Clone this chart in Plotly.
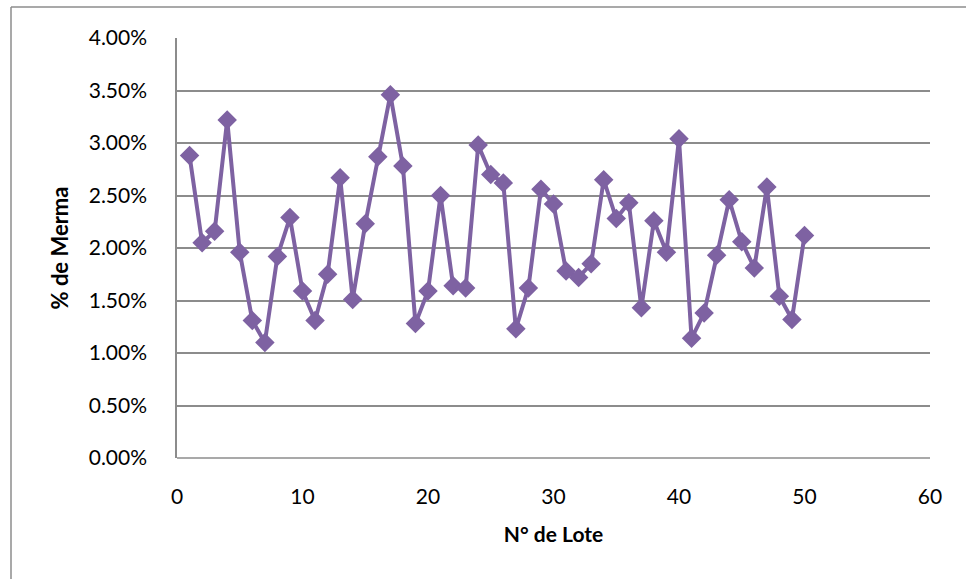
import plotly.graph_objects as go

# Lot numbers and shrinkage percentage per lot
lotes = list(range(1, 51))
merma_pct = [
    2.88, 2.05, 2.16, 3.22, 1.96, 1.31, 1.10, 1.92, 2.29, 1.59,
    1.31, 1.75, 2.67, 1.51, 2.23, 2.87, 3.46, 2.78, 1.28, 1.59,
    2.50, 1.64, 1.62, 2.98, 2.70, 2.62, 1.23, 1.62, 2.56, 2.42,
    1.78, 1.72, 1.85, 2.65, 2.28, 2.43, 1.43, 2.26, 1.96, 3.04,
    1.14, 1.38, 1.93, 2.46, 2.06, 1.81, 2.58, 1.54, 1.32, 2.12,
]
merma = [v / 100 for v in merma_pct]

x_ticks = [0, 10, 20, 30, 40, 50, 60]
y_ticks = [i * 0.005 for i in range(9)]

W, H = 966, 579
L, R, T, B = 177, 36, 38, 121
pw, ph = W - L - R, H - T - B

fig = go.Figure()
fig.add_trace(go.Scatter(
    x=lotes, y=merma, mode="lines+markers",
    line=dict(color="#7E62A2", width=4),
    marker=dict(symbol="diamond", size=15, color="#7E62A2"),
    showlegend=False,
))

font_family = "Lato, 'Open Sans', sans-serif"

fig.update_layout(
    width=W, height=H,
    margin=dict(l=L, r=R, t=T, b=B),
    paper_bgcolor="white", plot_bgcolor="white",
    font=dict(family=font_family, color="#000000", size=20),
    xaxis=dict(
        range=[0, 60], tickvals=x_ticks, showgrid=False, zeroline=False,
        showline=False, ticks="", ticklabelstandoff=24,
        tickfont=dict(size=21),
        title=dict(text="<b>N° de Lote</b>", font=dict(size=21), standoff=20),
    ),
    yaxis=dict(
        range=[0, 0.04], tickvals=y_ticks, tickformat=".2%",
        showgrid=True, gridcolor="#8C8C8C", gridwidth=1.5,
        zeroline=False, showline=True, linecolor="#8C8C8C", linewidth=1.5,
        ticks="", ticklabelstandoff=24,
        tickfont=dict(size=21),
        title=dict(text="<b>% de Merma</b>", font=dict(size=22), standoff=14),
    ),
)

# Baseline at 0% drawn as a gray line across the plot
fig.add_shape(type="line", xref="paper", yref="paper", x0=0, x1=1, y0=0, y1=0,
              line=dict(color="#8C8C8C", width=1.5))

# Outer chart border (left and top edges visible)
x_left = (11 - L) / pw
y_top = (H - B - 7) / ph
fig.add_shape(type="line", xref="paper", yref="paper", x0=x_left, x1=x_left,
              y0=y_top, y1=-(B + 10) / ph, line=dict(color="#8C8C8C", width=1.5))
fig.add_shape(type="line", xref="paper", yref="paper", x0=x_left, x1=(W + 10 - L) / pw,
              y0=y_top, y1=y_top, line=dict(color="#8C8C8C", width=1.5))

fig.write_html("out.html")
